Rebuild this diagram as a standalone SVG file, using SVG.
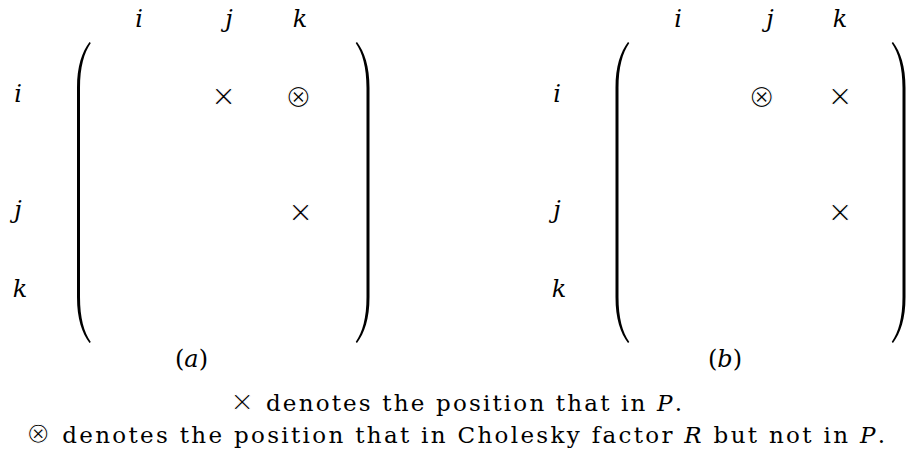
<svg xmlns="http://www.w3.org/2000/svg" width="906" height="458" viewBox="0 0 906 458">
<style>
.v{font-family:"DejaVu Serif",serif;font-style:italic;font-size:24px;fill:#000;text-anchor:middle}
.s{font-family:"DejaVu Sans",sans-serif;font-size:30px;fill:#000;text-anchor:middle;stroke:#fff;stroke-width:0.9px}
.o{font-family:"DejaVu Sans",sans-serif;font-size:32px;fill:#000;text-anchor:middle;stroke:#fff;stroke-width:1.1px}
.t{font-family:"DejaVu Serif",serif;font-size:23px;fill:#000}
.m{font-style:italic}
.ls{font-family:"DejaVu Sans",sans-serif;font-size:29px;stroke:#fff;stroke-width:1px}
.cap{font-family:"DejaVu Serif",serif;font-size:24px;fill:#000;text-anchor:middle}
</style>
<defs>
<path id="lp" d="M12.5,0 C5,10 0,24 0,46 L0,255 C0,277 5,291 12.5,301 L13.8,300 C7,290 3,276 3,255 L3,46 C3,25 7,11 13.8,1 Z" fill="#000"/>
</defs>
<g id="matrix-a">
<text class="v" x="139" y="27">i</text>
<text class="v" x="229" y="27">j</text>
<text class="v" x="300" y="27">k</text>
<text class="v" x="18" y="102">i</text>
<text class="v" x="18" y="218">j</text>
<text class="v" x="20" y="297">k</text>
<use href="#lp" transform="translate(77,42)"/>
<use href="#lp" transform="translate(369.5,42) scale(-1,1)"/>
<text class="s" x="223.5" y="106">×</text>
<text class="o" x="298.5" y="106.5">⊗</text>
<text class="s" x="300.5" y="222">×</text>
<text class="cap" x="191.5" y="367">(<tspan class="m">a</tspan>)</text>
</g>
<g id="matrix-b">
<text class="v" x="678" y="27">i</text>
<text class="v" x="770" y="27">j</text>
<text class="v" x="840" y="27">k</text>
<text class="v" x="557" y="102">i</text>
<text class="v" x="557" y="218">j</text>
<text class="v" x="559" y="297">k</text>
<use href="#lp" transform="translate(615.5,42)"/>
<use href="#lp" transform="translate(905.5,42) scale(-1,1)"/>
<text class="o" x="761.7" y="106.5">⊗</text>
<text class="s" x="840" y="106">×</text>
<text class="s" x="840" y="222">×</text>
<text class="cap" x="725" y="367">(<tspan class="m">b</tspan>)</text>
</g>
<g id="legend">
<text class="t" x="230" y="411" textLength="452" lengthAdjust="spacing"><tspan class="ls">×</tspan> denotes the position that in <tspan class="m">P</tspan>.</text>
<text class="t" x="26" y="443" textLength="859" lengthAdjust="spacing"><tspan class="ls">⊗</tspan> denotes the position that in Cholesky factor <tspan class="m">R</tspan> but not in <tspan class="m">P</tspan>.</text>
</g>
<g id="connectors"></g>
</svg>
